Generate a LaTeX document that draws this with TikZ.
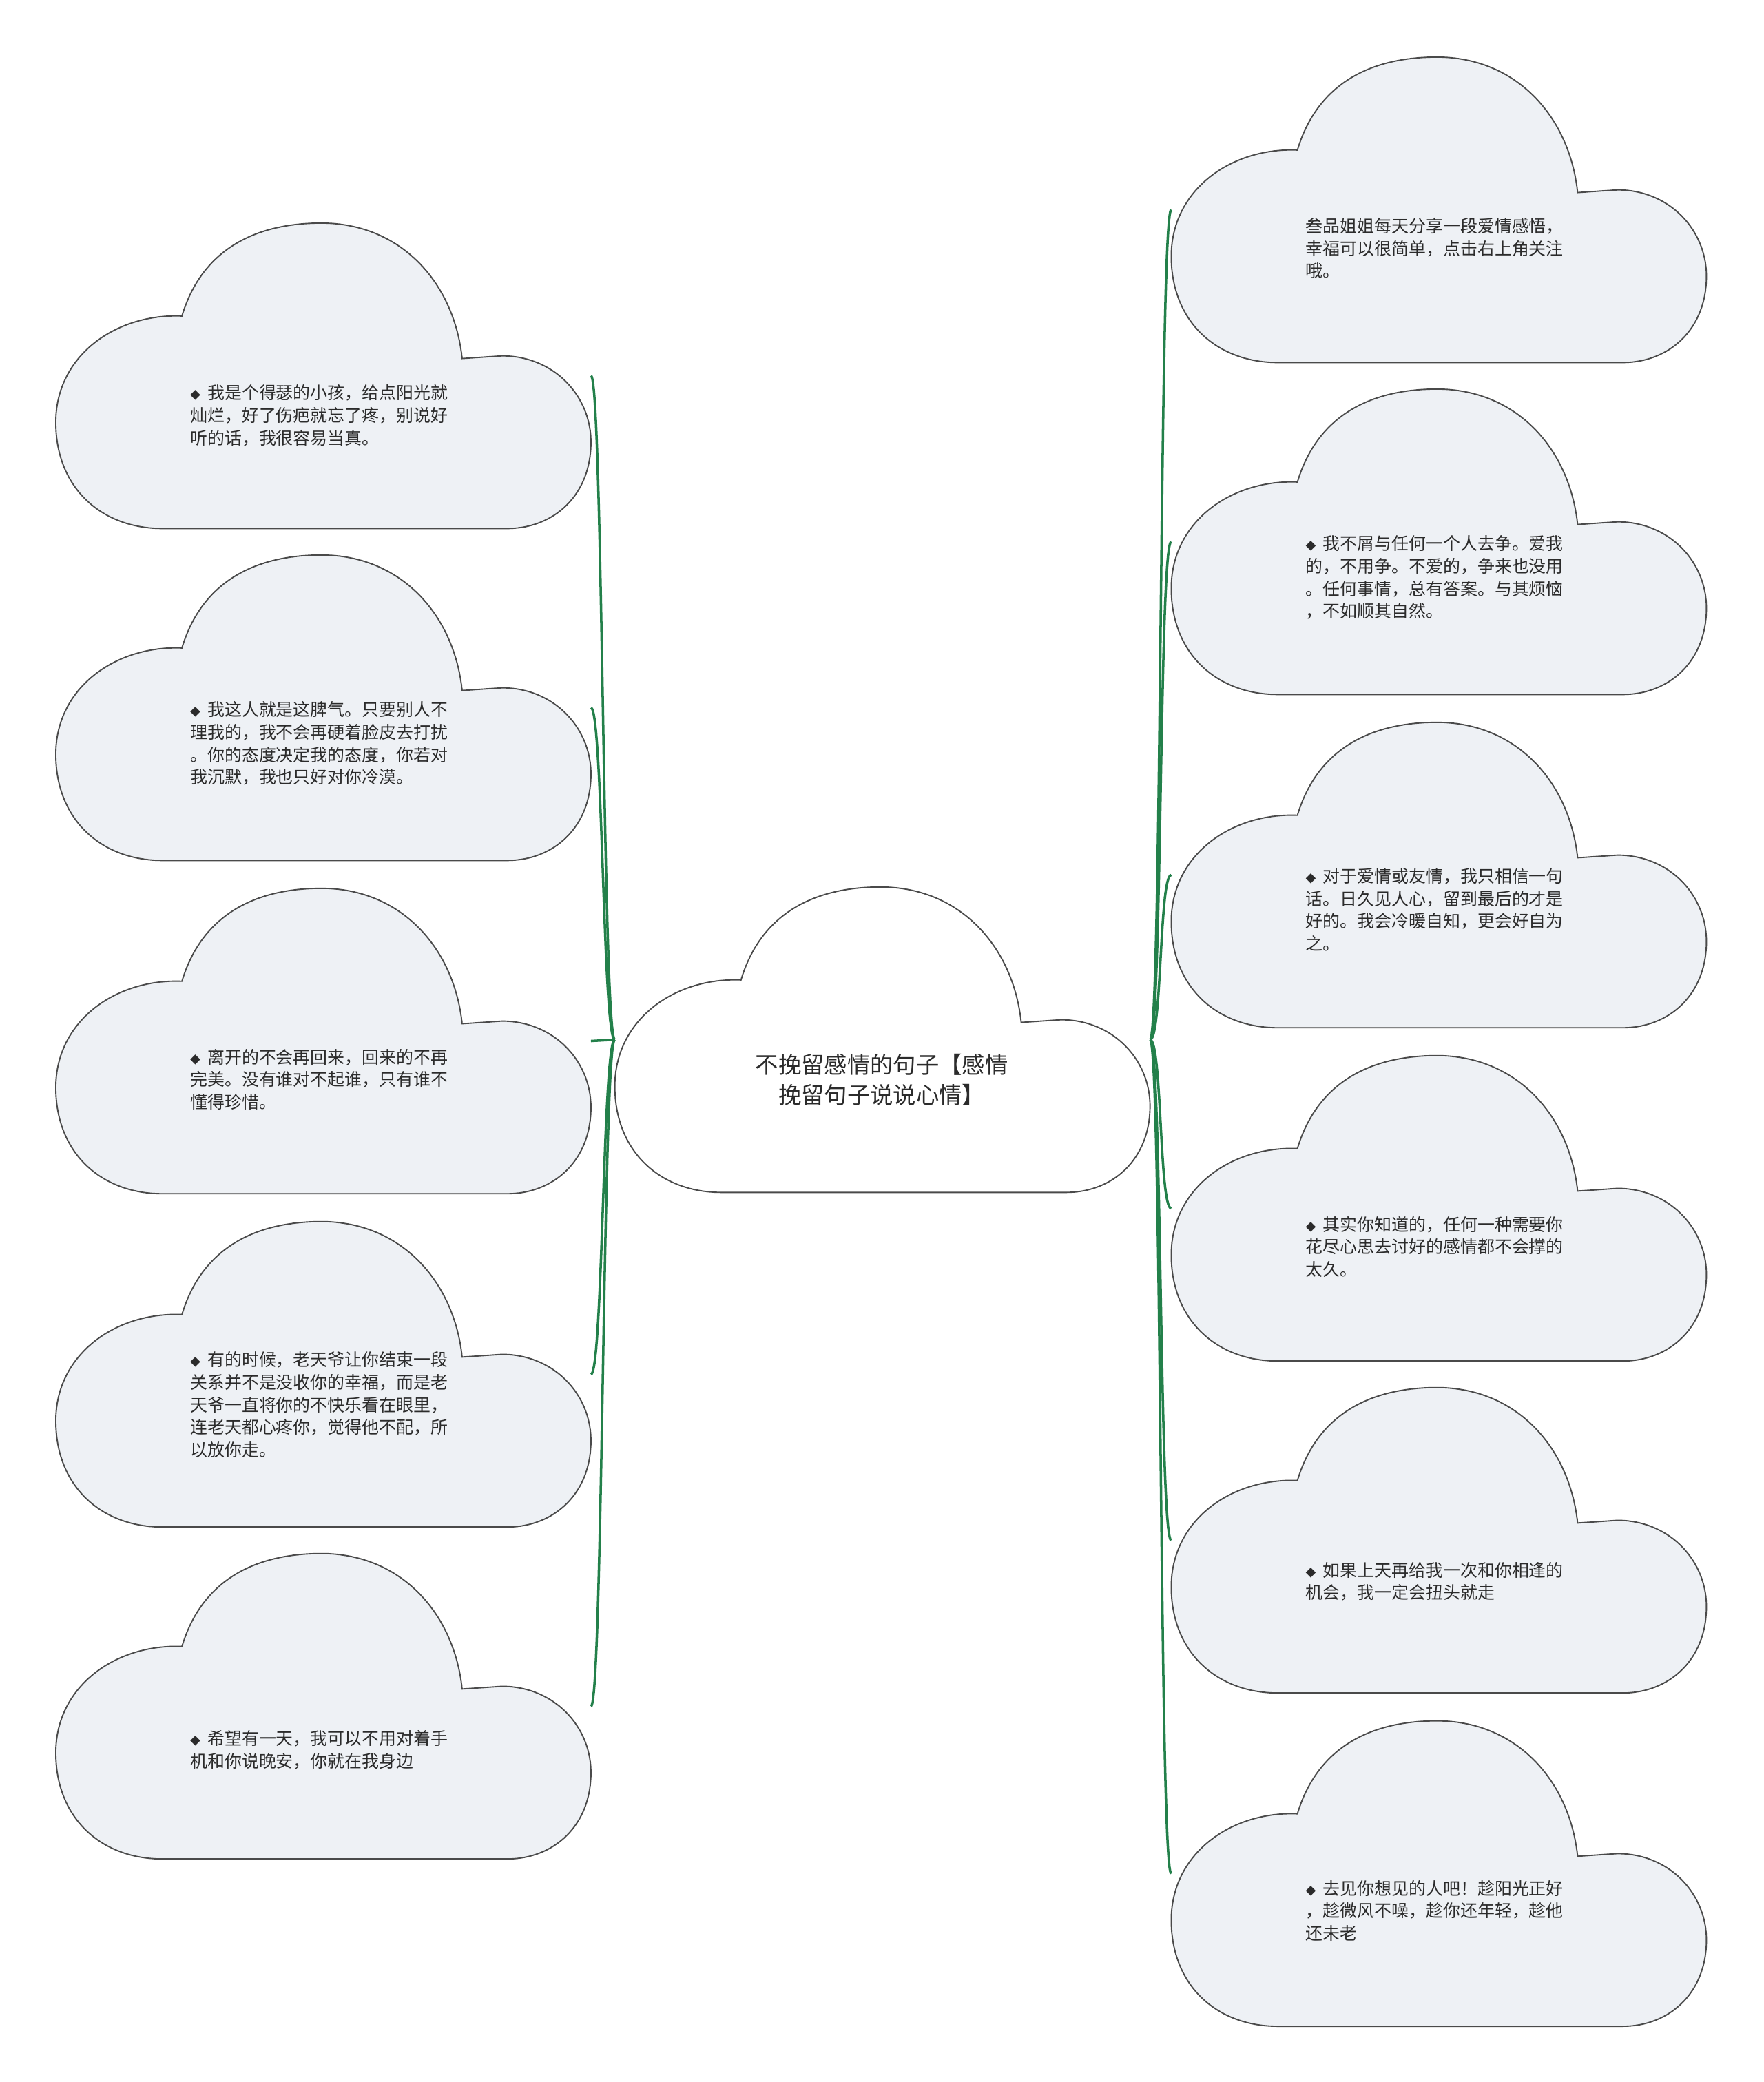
\documentclass[tikz,border=0pt]{standalone}
\usepackage{fontspec}
\setmainfont{Noto Sans CJK SC}

\definecolor{leaffill}{HTML}{EEF1F5}
\definecolor{cloudline}{HTML}{4A4A4A}
\definecolor{linkgreen}{HTML}{23804A}
\definecolor{textgray}{HTML}{2B2B2B}

\newcommand{\bul}{\makebox[9.2pt][l]{\fontsize{5.5pt}{5.5pt}\selectfont ◆}}

\tikzset{
  pics/cloud/.style={code={
    \path[draw=cloudline,line width=0.7pt,pic actions]
      (80,230) .. controls (35,230) and (0,200) .. (0,150)
      .. controls (0,100) and (45,68) .. (95,70)
      .. controls (110,20) and (150,0) .. (200,0)
      .. controls (260,0) and (300,45) .. (306,102)
      -- (336,100) .. controls (375,100) and (403,130) .. (403,165)
      .. controls (403,205) and (375,230) .. (340,230) -- cycle;
    \coordinate (-east) at (403,115);
    \coordinate (-west) at (0,115);
  }},
  leaftext/.style={anchor=west,align=left,inner sep=0pt,text=textgray,
    font=\fontsize{9.2pt}{12.05pt}\selectfont},
  roottext/.style={align=center,inner sep=0pt,text=textgray,
    font=\fontsize{12.3pt}{16.3pt}\selectfont},
  link/.style={draw=linkgreen,line width=1.3pt}
}

\begin{document}
\begin{tikzpicture}[x=0.025cm,y=-0.025cm]
  \useasboundingbox[fill=white] (0,0) rectangle (1328,1568);

  % central topic
  \pic[fill=white] (root) at (463,668) {cloud};
  \node[roottext] (rootlabel) at (664,813) {不挽留感情的句子【感情\\挽留句子说说心情】};

  % left side
  \pic[fill=leaffill] (l1) at (42,168) {cloud};
  \pic[fill=leaffill] (l2) at (42,418) {cloud};
  \pic[fill=leaffill] (l3) at (42,669) {cloud};
  \pic[fill=leaffill] (l4) at (42,920) {cloud};
  \pic[fill=leaffill] (l5) at (42,1170) {cloud};

  \node[leaftext] (l1label) at (143,313) {\bul 我是个得瑟的小孩，给点阳光就\\灿烂，好了伤疤就忘了疼，别说好\\听的话，我很容易当真。};
  \node[leaftext] (l2label) at (143,560) {\bul 我这人就是这脾气。只要别人不\\理我的，我不会再硬着脸皮去打扰\\。你的态度决定我的态度，你若对\\我沉默，我也只好对你冷漠。};
  \node[leaftext] (l3label) at (143,813) {\bul 离开的不会再回来，回来的不再\\完美。没有谁对不起谁，只有谁不\\懂得珍惜。};
  \node[leaftext] (l4label) at (143,1058) {\bul 有的时候，老天爷让你结束一段\\关系并不是没收你的幸福，而是老\\天爷一直将你的不快乐看在眼里，\\连老天都心疼你，觉得他不配，所\\以放你走。};
  \node[leaftext] (l5label) at (143,1318) {\bul 希望有一天，我可以不用对着手\\机和你说晚安，你就在我身边};

  % right side
  \pic[fill=leaffill] (r1) at (882,43) {cloud};
  \pic[fill=leaffill] (r2) at (882,293) {cloud};
  \pic[fill=leaffill] (r3) at (882,544) {cloud};
  \pic[fill=leaffill] (r4) at (882,795) {cloud};
  \pic[fill=leaffill] (r5) at (882,1045) {cloud};
  \pic[fill=leaffill] (r6) at (882,1296) {cloud};

  \node[leaftext] (r1label) at (983,187) {叁品姐姐每天分享一段爱情感悟，\\幸福可以很简单，点击右上角关注\\哦。};
  \node[leaftext] (r2label) at (983,435) {\bul 我不屑与任何一个人去争。爱我\\的，不用争。不爱的，争来也没用\\。任何事情，总有答案。与其烦恼\\，不如顺其自然。};
  \node[leaftext] (r3label) at (983,685) {\bul 对于爱情或友情，我只相信一句\\话。日久见人心，留到最后的才是\\好的。我会冷暖自知，更会好自为\\之。};
  \node[leaftext] (r4label) at (983,939) {\bul 其实你知道的，任何一种需要你\\花尽心思去讨好的感情都不会撑的\\太久。};
  \node[leaftext] (r5label) at (983,1191) {\bul 如果上天再给我一次和你相逢的\\机会，我一定会扭头就走};
  \node[leaftext] (r6label) at (983,1439) {\bul 去见你想见的人吧！趁阳光正好\\，趁微风不噪，趁你还年轻，趁他\\还未老};

  % connectors
  \foreach \leaf in {l1,l2,l3,l4,l5}
    \draw[link] (root-west) .. controls +(-9,0) and +(9,0) .. (\leaf-east);
  \foreach \leaf in {r1,r2,r3,r4,r5,r6}
    \draw[link] (root-east) .. controls +(9,0) and +(-9,0) .. (\leaf-west);
\end{tikzpicture}
\end{document}
